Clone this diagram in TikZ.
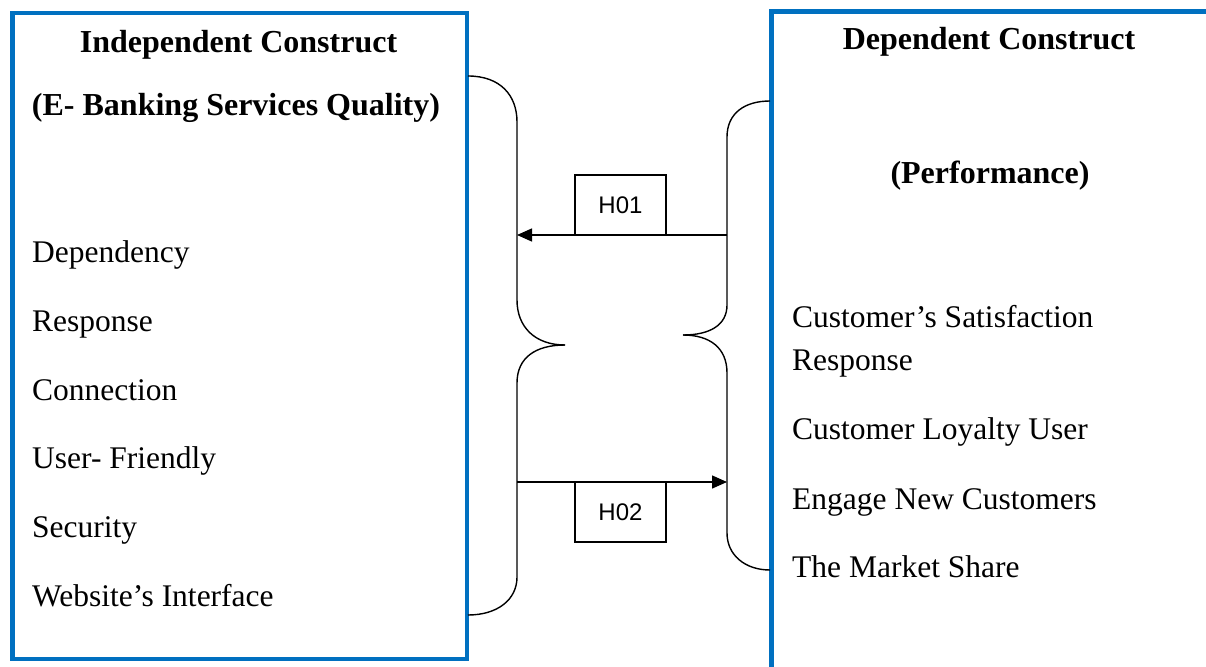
\documentclass[tikz,border=0pt]{standalone}
\usepackage{fontspec}
\setmainfont{Liberation Serif}
\newfontfamily\hfont{Liberation Sans}
\usetikzlibrary{arrows.meta}
\definecolor{boxblue}{HTML}{0070C0}
\begin{document}
\begin{tikzpicture}[x=1pt,y=-1pt,
  framebox/.style={draw=boxblue,line width=4.5pt},
  bracepath/.style={draw=black,line width=1.4pt},
  arrowline/.style={draw=black,line width=1.4pt,-{Triangle[length=15pt,width=13pt]}},
  hbox/.style={draw=black,line width=1.4pt,fill=white,minimum width=91pt,minimum height=60pt,inner sep=0pt,font=\hfont\fontsize{24}{28}\selectfont},
  title/.style={anchor=base,inner sep=0pt,font=\bfseries\fontsize{32}{38}\selectfont},
  item/.style={anchor=base west,inner sep=0pt,font=\fontsize{31.5}{38}\selectfont}]
\useasboundingbox (0,0) rectangle (1206,666);
\fill[white] (0,0) rectangle (1206,666);
% boxes
\draw[framebox] (12.5,13) rectangle (467,659);
\draw[framebox] (771.5,690) -- (771.5,11.5) -- (1220,11.5);
% left box text
\node[title] (t1) at (238.5,53) {Independent Construct};
\node[title] (t2) at (236,115) {(E- Banking Services Quality)};
\node[item] (l1) at (32,262) {Dependency};
\node[item] (l2) at (32,331) {Response};
\node[item] (l3) at (32,400) {Connection};
\node[item] (l4) at (32,468) {User- Friendly};
\node[item] (l5) at (32,537) {Security};
\node[item] (l6) at (32,606) {Website’s Interface};
% right box text
\node[title] (t3) at (989,50) {Dependent Construct};
\node[title] (t4) at (990,183) {(Performance)};
\node[item] (r1) at (792,327) {Customer’s Satisfaction};
\node[item] (r2) at (792,370) {Response};
\node[item] (r3) at (792,439) {Customer Loyalty User};
\node[item] (r4) at (792,509) {Engage New Customers};
\node[item] (r5) at (792,577) {The Market Share};
% braces
\draw[bracepath] (468,76) .. controls (500,76) and (517,95) .. (517,122) -- (517,300)
  .. controls (517,327) and (535,345) .. (565,345);
\draw[bracepath] (565,345) .. controls (535,345) and (517,358) .. (517,383) -- (517,577)
  .. controls (517,600) and (497,615) .. (468,615);
\draw[bracepath] (770,101) .. controls (745,101) and (727,113) .. (727,137) -- (727,305)
  .. controls (727,325) and (710,335) .. (683,335);
\draw[bracepath] (683,335) .. controls (710,335) and (727,348) .. (727,373) -- (727,533)
  .. controls (727,555) and (745,570) .. (770,570);
% arrows
\coordinate (rb1) at (727,235);
\coordinate (lb1) at (517,235);
\coordinate (lb2) at (517,482);
\coordinate (rb2) at (727,482);
\draw[arrowline] (rb1) -- (lb1);
\draw[arrowline] (lb2) -- (rb2);
\node[hbox] (h1) at (620.5,205) {H01};
\node[hbox] (h2) at (620.5,512) {H02};
\end{tikzpicture}
\end{document}
